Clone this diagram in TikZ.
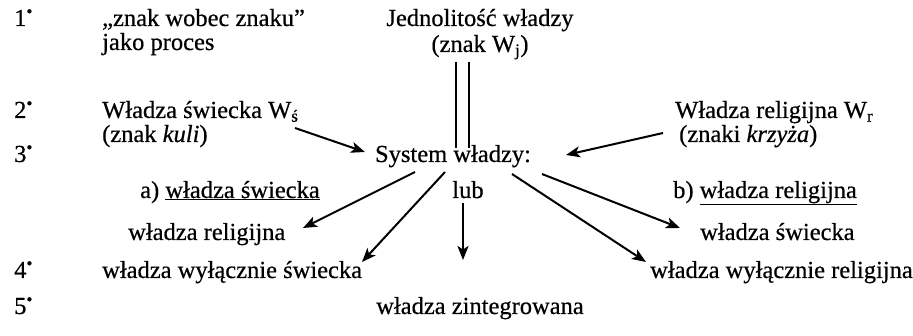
\documentclass[tikz,border=0pt]{standalone}
\usepackage{fontspec}
\setmainfont{Liberation Serif}[FakeBold=0.5]
\usetikzlibrary{arrows.meta}
\newcommand{\degdot}{\textsuperscript{•}}
\begin{document}
\begin{tikzpicture}[x=1pt,y=-1pt,
  txt/.style={inner sep=0pt,anchor=base west,font=\fontsize{24.5}{27}\selectfont},
  ctxt/.style={inner sep=0pt,anchor=base,font=\fontsize{24.5}{27}\selectfont},
  arr/.style={line width=2pt,-{Stealth[length=14pt,width=11pt,inset=3.5pt]}},
  dbl/.style={line width=2pt}]
\useasboundingbox (0,0) rectangle (913,336);
% row numbers
\node[txt] (r1) at (14,26) {1\degdot};
\node[txt] (r2) at (14,118) {2\degdot};
\node[txt] (r3) at (14,162) {3\degdot};
\node[txt] (r4) at (14,278) {4\degdot};
\node[txt] (r5) at (14,314) {5\degdot};
% texts
\node[txt] (zw) at (102,26) {„znak wobec znaku”};
\node[txt] (jp) at (102,50) {jako proces};
\node[ctxt] (jw) at (480,26) {Jednolitość władzy};
\node[ctxt] (zj) at (480,52) {(znak W\textsubscript{j})};
\node[txt] (ws) at (102,118) {Władza świecka W\textsubscript{ś}};
\node[txt] (zk) at (102,142) {(znak \textit{kuli})};
\node[txt] (wr) at (675,118) {Władza religijna W\textsubscript{r}};
\node[txt] (zkr) at (679,142) {(znaki \textit{krzyża})};
\node[ctxt] (sys) at (453,162) {System władzy:};
\node[txt] (a) at (140,198) {a) \underline{władza świecka}};
\node[ctxt] (lub) at (468,198) {lub};
\node[txt] (b) at (673,198) {b) \underline{władza religijna}};
\node[txt] (wrl) at (128,240) {władza religijna};
\node[txt] (wsr) at (700,240) {władza świecka};
\node[txt] (wws) at (102,278) {władza wyłącznie świecka};
\node[txt] (wwr) at (650,278) {władza wyłącznie religijna};
\node[ctxt] (wz) at (480,314) {władza zintegrowana};
% double line
\coordinate (d1a) at (456,62); \coordinate (d1b) at (456,148);
\coordinate (d2a) at (469,62); \coordinate (d2b) at (469,148);
\draw[dbl] (d1a) -- (d1b);
\draw[dbl] (d2a) -- (d2b);
% arrows
\coordinate (s1) at (295,128); \coordinate (e1) at (365,152);
\draw[arr] (s1) -- (e1);
\coordinate (s2) at (663,133); \coordinate (e2) at (566,155);
\draw[arr] (s2) -- (e2);
\coordinate (s3) at (415,172); \coordinate (e3) at (303,228);
\draw[arr] (s3) -- (e3);
\coordinate (s4) at (445,172); \coordinate (e4) at (362,262);
\draw[arr] (s4) -- (e4);
\coordinate (s5) at (463,203); \coordinate (e5) at (463,260);
\draw[arr] (s5) -- (e5);
\coordinate (s6) at (542,174); \coordinate (e6) at (680,228);
\draw[arr] (s6) -- (e6);
\coordinate (s7) at (512,174); \coordinate (e7) at (646,262);
\draw[arr] (s7) -- (e7);
\end{tikzpicture}
\end{document}
